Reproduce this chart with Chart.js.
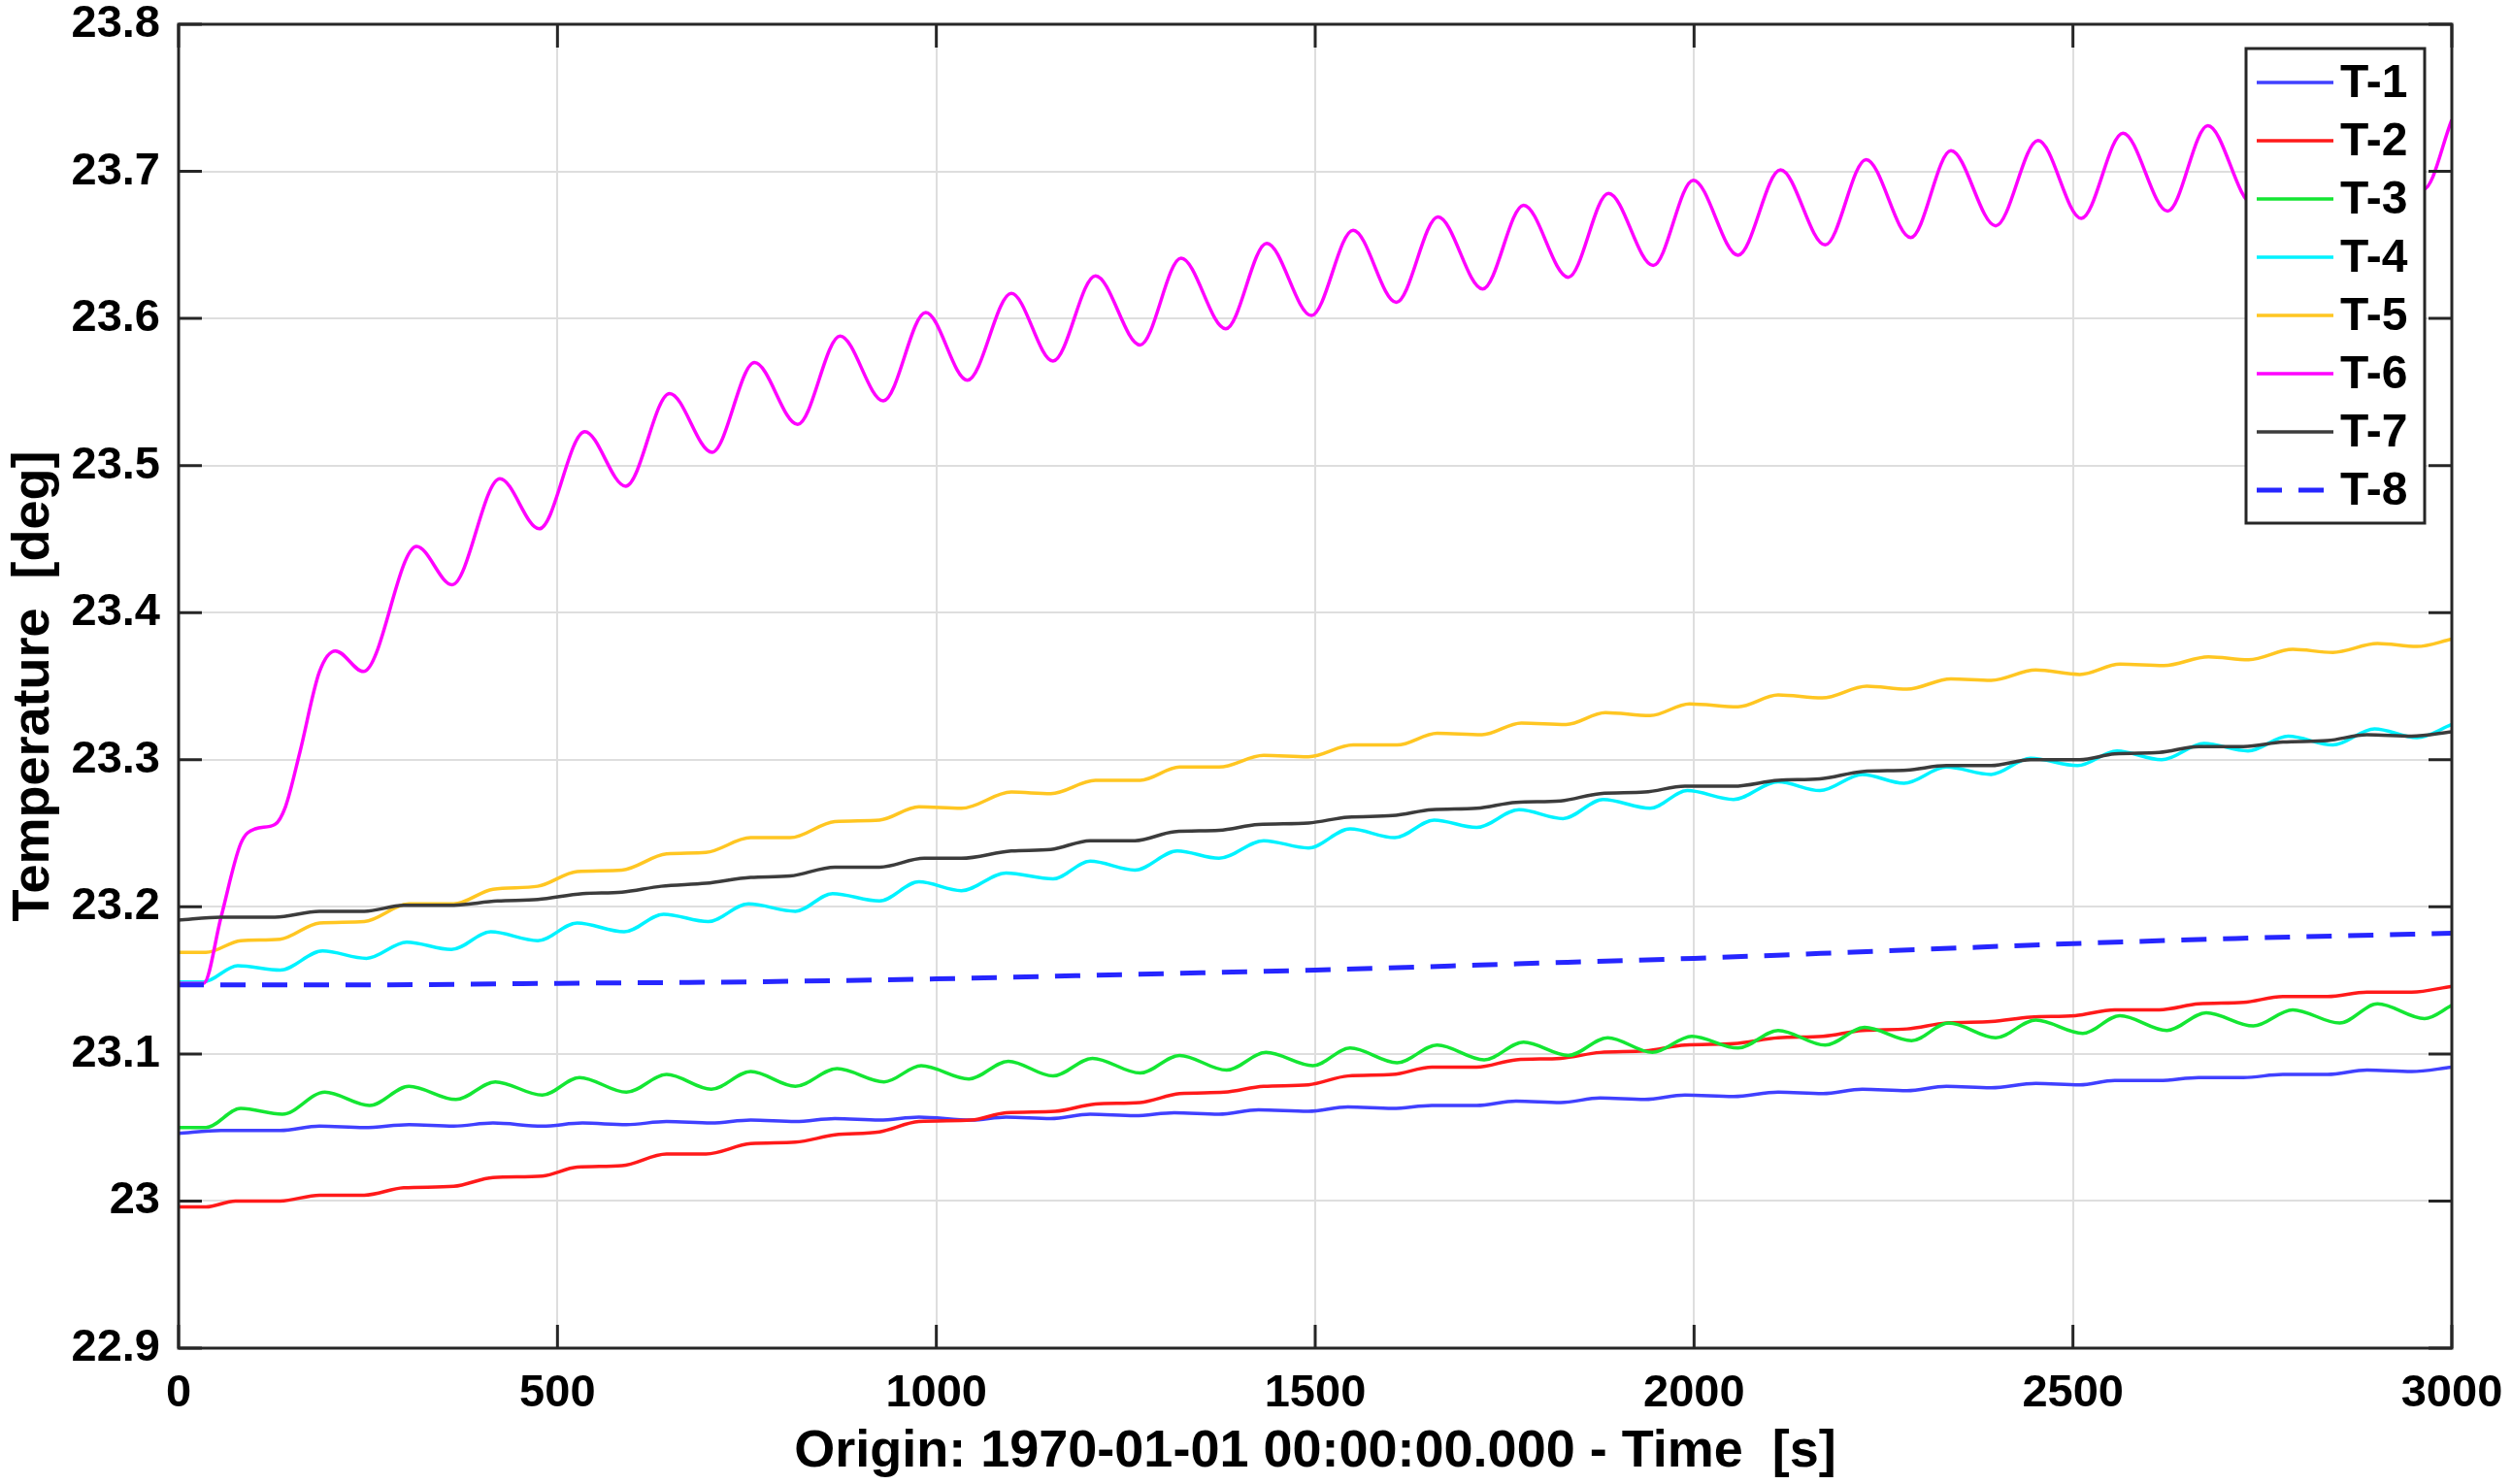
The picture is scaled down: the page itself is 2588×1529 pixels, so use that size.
<!DOCTYPE html>
<html>
<head>
<meta charset="utf-8">
<title>Temperature T-1 .. T-8</title>
<script src="https://cdn.jsdelivr.net/npm/chart.js@4.4.1/dist/chart.umd.min.js"></script>
<style>
  html, body { margin: 0; padding: 0; background: #fff; }
  #wrap { width: 2588px; height: 1529px; }
</style>
</head>
<body>
<div id="wrap"><canvas id="tempChart" width="2588" height="1529"></canvas></div>
<script>
// series names and colours (MATLAB style)
var seriesNames = ['T-1', 'T-2', 'T-3', 'T-4', 'T-5', 'T-6', 'T-7', 'T-8'];
var seriesColors = ['#4040ff', '#ff1a1a', '#14e633', '#00f2ff', '#ffc622', '#ff00ff', '#3c3c3c', '#2626ff'];

// axis ticks
var xTickValues = [0, 500, 1000, 1500, 2000, 2500, 3000];
var xTickLabels = ['0', '500', '1000', '1500', '2000', '2500', '3000'];
var yTickValues = [22.9, 23.0, 23.1, 23.2, 23.3, 23.4, 23.5, 23.6, 23.7, 23.8];
var yTickLabels = ['22.9', '23', '23.1', '23.2', '23.3', '23.4', '23.5', '23.6', '23.7', '23.8'];

// T-1 (time [s], temperature [deg])
var t1Time = [0, 56, 134, 186, 245, 304, 363, 415, 480, 533, 591, 644, 703, 755, 814, 866, 925, 977,
  1046, 1092, 1151, 1203, 1262, 1314, 1373, 1425, 1491, 1543, 1602, 1654, 1713, 1765, 1824, 1876, 1935, 1988,
  2052, 2111, 2170, 2222, 2281, 2333, 2392, 2451, 2509, 2555, 2614, 2666, 2725, 2777, 2836, 2888, 2947, 3000];
var t1Temp = [23.046, 23.048, 23.048, 23.051, 23.050, 23.052, 23.051, 23.053, 23.051, 23.053, 23.052, 23.054, 23.053, 23.055, 23.054, 23.056, 23.055, 23.057,
  23.055, 23.057, 23.056, 23.059, 23.058, 23.060, 23.059, 23.062, 23.061, 23.064, 23.063, 23.065, 23.065, 23.068, 23.067, 23.070, 23.069, 23.072,
  23.071, 23.074, 23.073, 23.076, 23.075, 23.078, 23.077, 23.080, 23.079, 23.082, 23.082, 23.084, 23.084, 23.086, 23.086, 23.089, 23.088, 23.091];

// T-2
var t2Time = [0, 36, 75, 134, 186, 245, 297, 363, 415, 480, 526, 585, 644, 696, 755, 814, 866, 925, 977,
  1046, 1092, 1157, 1210, 1269, 1321, 1380, 1432, 1491, 1543, 1602, 1654, 1713, 1765, 1824, 1876, 1935, 1988,
  2052, 2111, 2170, 2222, 2281, 2333, 2392, 2444, 2503, 2555, 2614, 2666, 2725, 2777, 2836, 2888, 2947, 3000];
var t2Temp = [22.996, 22.996, 23.000, 23.000, 23.004, 23.004, 23.009, 23.010, 23.016, 23.017, 23.023, 23.024, 23.032, 23.032, 23.039, 23.040, 23.045, 23.047, 23.054,
  23.055, 23.060, 23.061, 23.066, 23.067, 23.073, 23.074, 23.078, 23.079, 23.085, 23.086, 23.091, 23.091, 23.096, 23.097, 23.101, 23.102, 23.106,
  23.107, 23.111, 23.112, 23.116, 23.117, 23.121, 23.122, 23.125, 23.126, 23.130, 23.130, 23.134, 23.135, 23.139, 23.139, 23.142, 23.142, 23.146];

// T-3
var t3Time = [0, 36, 82, 137, 193, 252, 304, 366, 418, 480, 529, 591, 644, 703, 755, 814, 869, 931, 980,
  1043, 1095, 1154, 1206, 1269, 1321, 1383, 1435, 1497, 1546, 1608, 1661, 1723, 1775, 1834, 1886, 1945, 1997,
  2058, 2111, 2173, 2225, 2287, 2336, 2398, 2451, 2513, 2562, 2624, 2676, 2738, 2790, 2852, 2902, 2964, 3000];
var t3Temp = [23.050, 23.050, 23.063, 23.059, 23.074, 23.065, 23.078, 23.069, 23.081, 23.072, 23.084, 23.074, 23.086, 23.076, 23.088, 23.078, 23.090, 23.081, 23.092,
  23.083, 23.095, 23.085, 23.097, 23.087, 23.099, 23.089, 23.101, 23.092, 23.104, 23.094, 23.106, 23.096, 23.108, 23.099, 23.111, 23.101, 23.112,
  23.104, 23.116, 23.106, 23.118, 23.109, 23.121, 23.111, 23.123, 23.114, 23.126, 23.116, 23.128, 23.119, 23.130, 23.121, 23.134, 23.124, 23.133];

// T-4
var t4Time = [0, 33, 78, 134, 190, 248, 301, 360, 412, 474, 526, 588, 640, 699, 752, 814, 863, 925, 977,
  1033, 1092, 1154, 1203, 1262, 1318, 1373, 1432, 1491, 1546, 1605, 1657, 1713, 1769, 1827, 1880, 1942, 1991,
  2052, 2111, 2166, 2222, 2277, 2333, 2392, 2444, 2506, 2558, 2617, 2673, 2731, 2784, 2843, 2898, 2954, 3000];
var t4Temp = [23.149, 23.149, 23.160, 23.157, 23.170, 23.165, 23.176, 23.171, 23.183, 23.177, 23.189, 23.183, 23.195, 23.190, 23.202, 23.197, 23.209, 23.204, 23.217,
  23.211, 23.223, 23.219, 23.231, 23.225, 23.238, 23.233, 23.245, 23.240, 23.253, 23.247, 23.259, 23.254, 23.266, 23.260, 23.273, 23.267, 23.279,
  23.273, 23.285, 23.279, 23.290, 23.284, 23.295, 23.290, 23.301, 23.296, 23.306, 23.300, 23.311, 23.306, 23.316, 23.310, 23.321, 23.315, 23.324];

// T-5
var t5Time = [0, 36, 82, 134, 186, 245, 304, 363, 415, 474, 526, 585, 644, 696, 755, 807, 866, 925, 977,
  1033, 1099, 1151, 1210, 1269, 1321, 1373, 1432, 1491, 1550, 1608, 1661, 1720, 1772, 1831, 1883, 1942, 1994,
  2058, 2111, 2169, 2228, 2281, 2339, 2392, 2451, 2509, 2562, 2620, 2679, 2732, 2790, 2843, 2902, 2954, 3000];
var t5Temp = [23.169, 23.169, 23.177, 23.178, 23.189, 23.190, 23.202, 23.202, 23.212, 23.214, 23.224, 23.225, 23.236, 23.237, 23.247, 23.247, 23.258, 23.259, 23.268,
  23.267, 23.278, 23.277, 23.286, 23.286, 23.295, 23.295, 23.303, 23.302, 23.310, 23.310, 23.318, 23.317, 23.325, 23.324, 23.332, 23.330, 23.338,
  23.336, 23.344, 23.342, 23.350, 23.348, 23.355, 23.354, 23.361, 23.358, 23.365, 23.364, 23.370, 23.368, 23.375, 23.373, 23.379, 23.377, 23.382];

// T-6
var t6Time = [0, 33, 56, 82, 101, 127, 141, 160, 186, 207, 244, 314, 361, 424, 476, 536, 590, 648, 704, 760, 817, 873, 930, 986,
  1041, 1099, 1154, 1210, 1269, 1323, 1382, 1436, 1495, 1550, 1607, 1662, 1721, 1775, 1834, 1887, 1946, 1999,
  2058, 2114, 2173, 2227, 2286, 2339, 2398, 2454, 2511, 2566, 2625, 2678, 2737, 2791, 2850, 2905, 2963, 3000];
var t6Temp = [23.148, 23.148, 23.193, 23.243, 23.253, 23.256, 23.268, 23.305, 23.360, 23.374, 23.360, 23.445, 23.419, 23.491, 23.457, 23.523, 23.486, 23.549, 23.509, 23.570, 23.528, 23.588, 23.544, 23.604,
  23.558, 23.617, 23.571, 23.629, 23.582, 23.641, 23.593, 23.651, 23.602, 23.660, 23.611, 23.669, 23.620, 23.677, 23.628, 23.685, 23.636, 23.694,
  23.643, 23.701, 23.650, 23.708, 23.655, 23.714, 23.663, 23.721, 23.668, 23.726, 23.673, 23.731, 23.678, 23.736, 23.683, 23.740, 23.688, 23.735];

// T-7
var t7Time = [0, 56, 127, 186, 245, 297, 356, 421, 474, 533, 585, 637, 696, 755, 807, 866, 925, 984,
  1033, 1099, 1151, 1203, 1262, 1314, 1373, 1425, 1491, 1543, 1602, 1654, 1713, 1765, 1824, 1876, 1935, 1988,
  2052, 2111, 2166, 2222, 2281, 2333, 2392, 2444, 2509, 2555, 2614, 2666, 2725, 2777, 2836, 2888, 2947, 3000];
var t7Temp = [23.191, 23.193, 23.193, 23.197, 23.197, 23.201, 23.201, 23.204, 23.205, 23.209, 23.210, 23.214, 23.216, 23.220, 23.221, 23.227, 23.227, 23.233,
  23.233, 23.238, 23.239, 23.245, 23.245, 23.251, 23.252, 23.256, 23.257, 23.261, 23.262, 23.266, 23.267, 23.271, 23.272, 23.277, 23.278, 23.282,
  23.282, 23.286, 23.287, 23.292, 23.293, 23.296, 23.296, 23.300, 23.300, 23.304, 23.305, 23.309, 23.309, 23.312, 23.313, 23.317, 23.316, 23.319];

// T-8 (dashed)
var t8Time = [0, 250, 500, 750, 1000, 1250, 1500, 1750, 2000, 2250, 2500, 2750, 3000];
var t8Temp = [23.147, 23.147, 23.148, 23.149, 23.151, 23.154, 23.157, 23.161, 23.165, 23.170, 23.175, 23.179, 23.182];

var allTimes = [t1Time, t2Time, t3Time, t4Time, t5Time, t6Time, t7Time, t8Time];
var allTemps = [t1Temp, t2Temp, t3Temp, t4Temp, t5Temp, t6Temp, t7Temp, t8Temp];

var fontFamily = '"Liberation Sans", Arial, Helvetica, sans-serif';
Chart.defaults.font.family = fontFamily;
Chart.defaults.color = '#000';

function toPoints(times, temps) {
  return times.map(function (t, i) {
    return { x: t, y: temps[i] };
  });
}

function labelFor(values, labels, value) {
  for (var i = 0; i < values.length; i++) {
    if (Math.abs(values[i] - value) < 1e-6) return labels[i];
  }
  return '';
}

// keep the plot box fixed: no extra room reserved for overhanging labels
function fixScale(scale, size) {
  if (scale.isHorizontal()) scale.height = size;
  else scale.width = size;
  scale.paddingTop = 0;
  scale.paddingBottom = 0;
  scale.paddingLeft = 0;
  scale.paddingRight = 0;
}

var datasets = seriesNames.map(function (name, i) {
  return {
    label: name,
    data: toPoints(allTimes[i], allTemps[i]),
    borderColor: seriesColors[i],
    backgroundColor: seriesColors[i],
    borderWidth: i === 7 ? 5 : 3.5,
    borderDash: i === 7 ? [26, 17] : [],
    pointRadius: 0,
    fill: false,
    cubicInterpolationMode: 'monotone',
    order: 8 - i // T-1 drawn first, T-8 on top
  };
});

// box round the axes with inward ticks on all four sides
var matlabFrame = {
  id: 'matlabFrame',
  afterDatasetsDraw: function (chart) {
    var ctx = chart.ctx;
    var a = chart.chartArea;
    var xs = chart.scales.x;
    var ys = chart.scales.y;
    var tickLen = 24;
    ctx.save();
    ctx.strokeStyle = '#262626';
    ctx.lineWidth = 3;
    ctx.beginPath();
    xTickValues.forEach(function (v) {
      var px = xs.getPixelForValue(v);
      ctx.moveTo(px, a.bottom);
      ctx.lineTo(px, a.bottom - tickLen);
      ctx.moveTo(px, a.top);
      ctx.lineTo(px, a.top + tickLen);
    });
    yTickValues.forEach(function (v) {
      var py = ys.getPixelForValue(v);
      ctx.moveTo(a.left, py);
      ctx.lineTo(a.left + tickLen, py);
      ctx.moveTo(a.right, py);
      ctx.lineTo(a.right - tickLen, py);
    });
    ctx.stroke();
    ctx.strokeRect(a.left, a.top, a.right - a.left, a.bottom - a.top);
    ctx.restore();
  }
};

// legend box in the top right corner of the axes
var boxLegend = {
  id: 'boxLegend',
  afterDraw: function (chart) {
    var ctx = chart.ctx;
    var a = chart.chartArea;
    var w = 184, h = 489;
    var right = a.right - 28;
    var left = right - w;
    var top = a.top + 25;
    ctx.save();
    ctx.fillStyle = '#fff';
    ctx.fillRect(left, top, w, h);
    ctx.strokeStyle = '#262626';
    ctx.lineWidth = 3;
    ctx.strokeRect(left, top, w, h);
    ctx.font = 'bold 48px ' + fontFamily;
    ctx.textBaseline = 'middle';
    ctx.textAlign = 'left';
    chart.data.datasets.forEach(function (ds, i) {
      var y = top + 35 + i * 60;
      ctx.beginPath();
      ctx.strokeStyle = ds.borderColor;
      ctx.lineWidth = ds.borderWidth;
      ctx.setLineDash(ds.borderDash);
      ctx.moveTo(left + 11, y);
      ctx.lineTo(left + 90, y);
      ctx.stroke();
      ctx.setLineDash([]);
      ctx.fillStyle = '#000';
      ctx.fillText(ds.label, left + 97, y + 2);
    });
    ctx.restore();
  }
};

var ctx = document.getElementById('tempChart').getContext('2d');
var tempChart = new Chart(ctx, {
  type: 'line',
  data: { datasets: datasets },
  plugins: [matlabFrame, boxLegend],
  options: {
    responsive: false,
    animation: false,
    layout: { padding: { left: 0, right: 62, top: 25, bottom: 0 } },
    plugins: {
      legend: { display: false },
      tooltip: { enabled: false }
    },
    scales: {
      x: {
        type: 'linear',
        min: 0,
        max: 3000,
        afterFit: function (scale) { fixScale(scale, 140); },
        afterBuildTicks: function (scale) {
          scale.ticks = xTickValues.map(function (v) { return { value: v }; });
        },
        ticks: {
          autoSkip: false,
          maxRotation: 0,
          padding: 24,
          font: { size: 47, weight: 'bold', lineHeight: 1 },
          callback: function (value) { return labelFor(xTickValues, xTickLabels, value); }
        },
        grid: { color: '#dedede', lineWidth: 2, drawTicks: false },
        border: { display: false },
        title: {
          display: true,
          text: 'Origin: 1970-01-01 00:00:00.000 - Time  [s]',
          font: { size: 54, weight: 'bold' },
          padding: { top: 0, bottom: 0 }
        }
      },
      y: {
        type: 'linear',
        min: 22.9,
        max: 23.8,
        afterFit: function (scale) { fixScale(scale, 184); },
        afterBuildTicks: function (scale) {
          scale.ticks = yTickValues.map(function (v) { return { value: v }; });
        },
        ticks: {
          padding: 19,
          font: { size: 47, weight: 'bold', lineHeight: 1 },
          callback: function (value) { return labelFor(yTickValues, yTickLabels, value); }
        },
        grid: { color: '#dedede', lineWidth: 2, drawTicks: false },
        border: { display: false },
        title: {
          display: true,
          text: 'Temperature  [deg]',
          font: { size: 54, weight: 'bold' },
          padding: { top: 3, bottom: 0 }
        }
      }
    }
  }
});
</script>
</body>
</html>
